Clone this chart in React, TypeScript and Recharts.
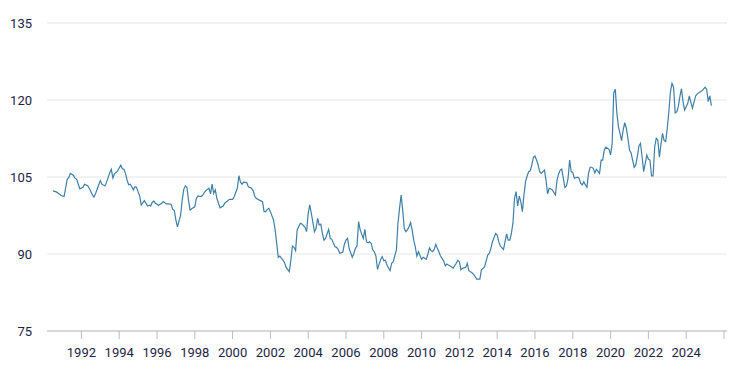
import React from 'react';
import { LineChart, Line, XAxis, YAxis, CartesianGrid } from 'recharts';

const dates = [
  '1990-07','1990-09','1990-11','1990-12','1991-02','1991-04','1991-05','1991-06','1991-08','1991-09','1991-10','1991-12',
  '1992-02','1992-03','1992-05','1992-06','1992-08','1992-09','1992-10','1992-11',
  '1993-01','1993-02','1993-04','1993-05','1993-07','1993-08','1993-09','1993-10','1993-12',
  '1994-01','1994-02','1994-03','1994-04','1994-05','1994-06','1994-07','1994-08','1994-09','1994-10','1994-11','1994-12',
  '1995-01','1995-02','1995-03','1995-05','1995-06','1995-07','1995-08','1995-09','1995-10','1995-11','1995-12',
  '1996-02','1996-04','1996-05','1996-07','1996-08','1996-10','1996-11','1996-12',
  '1997-01','1997-02','1997-04','1997-05','1997-06','1997-07','1997-08','1997-09','1997-10','1997-11',
  '1998-01','1998-02','1998-03','1998-05','1998-06','1998-07','1998-08','1998-10','1998-11','1998-12',
  '1999-01','1999-02','1999-03','1999-05','1999-07','1999-08','1999-10','1999-11',
  '2000-01','2000-02','2000-04','2000-05','2000-06','2000-07','2000-08','2000-10','2000-11',
  '2001-01','2001-02','2001-03','2001-04','2001-06','2001-08','2001-09','2001-10','2001-11','2001-12',
  '2002-01','2002-03','2002-04','2002-05','2002-06','2002-07','2002-09','2002-10','2002-11',
  '2003-01','2003-02','2003-03','2003-04','2003-05','2003-06','2003-08','2003-09','2003-11','2003-12',
  '2004-01','2004-02','2004-03','2004-05','2004-06','2004-07','2004-08','2004-09','2004-10','2004-11','2004-12',
  '2005-02','2005-03','2005-04','2005-06','2005-07','2005-08','2005-09','2005-11','2005-12',
  '2006-01','2006-02','2006-03','2006-05','2006-06','2006-07','2006-08','2006-09','2006-10','2006-12',
  '2007-01','2007-02','2007-03','2007-04','2007-05','2007-06','2007-07','2007-08','2007-09','2007-11','2007-12',
  '2008-01','2008-02','2008-03','2008-05','2008-06','2008-07','2008-09','2008-10','2008-11','2008-12',
  '2009-01','2009-02','2009-03','2009-04','2009-05','2009-06','2009-07','2009-08','2009-09','2009-10','2009-11',
  '2010-01','2010-02','2010-03','2010-04','2010-05','2010-06','2010-07','2010-08','2010-09','2010-10','2010-11','2010-12',
  '2011-01','2011-02','2011-03','2011-04','2011-05','2011-06','2011-08','2011-09','2011-11','2011-12',
  '2012-01','2012-02','2012-03','2012-05','2012-06','2012-07','2012-09','2012-10','2012-11','2012-12',
  '2013-02','2013-03','2013-04','2013-05','2013-07','2013-08','2013-09','2013-10','2013-12',
  '2014-01','2014-02','2014-03','2014-05','2014-06','2014-07','2014-08','2014-09','2014-10','2014-11','2014-12',
  '2015-01','2015-02','2015-03','2015-04','2015-05','2015-06','2015-07','2015-08','2015-09','2015-10','2015-11','2015-12',
  '2016-01','2016-02','2016-03','2016-04','2016-05','2016-06','2016-07','2016-08','2016-09','2016-10','2016-11','2016-12',
  '2017-02','2017-03','2017-04','2017-05','2017-06','2017-07','2017-08','2017-09','2017-10','2017-11','2017-12',
  '2018-01','2018-02','2018-04','2018-05','2018-06','2018-07','2018-08','2018-09','2018-10','2018-11','2018-12',
  '2019-01','2019-02','2019-03','2019-04','2019-05','2019-06','2019-07','2019-08','2019-09','2019-10','2019-12',
  '2020-01','2020-02','2020-03','2020-04','2020-05','2020-06','2020-07','2020-08','2020-09','2020-10','2020-11','2020-12',
  '2021-01','2021-02','2021-03','2021-04','2021-05','2021-06','2021-07','2021-08','2021-09','2021-10','2021-11','2021-12',
  '2022-01','2022-02','2022-03','2022-04','2022-05','2022-06','2022-07','2022-08','2022-09','2022-10','2022-11','2022-12',
  '2023-01','2023-02','2023-03','2023-04','2023-05','2023-06','2023-07','2023-08','2023-09','2023-10','2023-11','2023-12',
  '2024-01','2024-02','2024-03','2024-04','2024-05','2024-07','2024-08','2024-09','2024-10','2024-11','2024-12',
  '2025-01','2025-02','2025-03','2025-04','2025-05',
];

const values = [
  102.3,102.1,101.7,101.4,101.2,104.55,104.9,105.7,105.3,104.75,104.55,102.7,
  103.0,103.6,103.3,102.8,101.5,101.1,101.8,102.6,
  104.3,103.6,103.25,104.0,105.85,106.5,104.8,105.6,106.2,
  106.75,107.3,106.6,106.5,105.7,104.4,103.5,103.6,103.1,102.5,103.1,103.0,
  102.1,101.3,99.55,100.4,99.9,99.35,99.5,99.35,100.1,100.3,99.9,
  99.5,99.9,100.2,99.75,99.75,99.7,98.7,98.45,
  96.6,95.3,97.6,100.5,102.6,103.25,103.0,100.5,98.55,98.8,
  99.2,100.85,101.3,101.2,101.45,101.95,102.35,102.8,101.7,103.6,
  101.8,102.5,100.85,99.0,99.35,99.9,100.4,100.65,
  100.65,101.15,102.8,105.25,104.0,103.6,104.0,103.9,103.1,
  102.8,102.35,101.3,100.85,100.5,100.2,98.25,98.25,98.7,98.9,
  98.25,96.6,94.8,92.1,89.35,89.6,88.8,88.3,87.4,
  86.55,88.8,91.55,91.3,90.65,94.7,96.0,95.85,95.2,94.35,
  97.9,99.55,97.9,94.35,95.0,96.95,95.65,95.8,94.0,92.7,93.05,
  94.8,93.05,92.85,91.4,91.3,90.9,90.15,90.4,91.95,
  92.7,93.05,91.1,89.35,90.15,91.1,91.55,96.3,94.7,93.05,
  94.8,92.4,92.2,92.4,92.1,90.8,90.45,89.6,87.0,88.95,89.5,
  88.7,88.8,87.85,86.75,88.2,88.5,90.8,96.0,98.9,101.5,
  98.55,95.0,94.35,94.7,95.3,96.1,94.7,92.7,91.4,89.6,90.45,
  88.95,89.35,89.15,88.95,90.0,91.2,90.65,90.45,90.9,91.9,91.1,90.45,
  89.6,89.15,88.65,87.7,88.05,87.85,87.5,87.2,88.2,88.8,
  88.5,86.9,87.2,87.4,88.2,86.75,86.35,86.05,85.6,85.1,
  85.1,86.9,87.2,87.5,89.8,90.15,91.1,92.4,94.0,
  93.7,92.4,91.55,90.9,92.4,93.9,92.7,92.7,94.0,96.0,100.85,
  102.15,99.35,101.3,100.2,98.25,101.5,104.1,105.2,106.05,106.2,107.35,108.85,
  109.1,108.3,107.35,106.05,105.7,106.05,106.35,104.4,101.7,102.8,102.7,102.5,
  101.5,104.4,105.6,106.35,106.55,104.75,103.0,103.25,104.75,108.3,106.05,
  105.85,104.75,104.95,104.75,103.8,103.45,104.1,103.45,103.0,105.7,106.9,
  106.9,106.7,105.8,106.5,106.1,105.7,108.3,108.3,110.25,110.8,110.4,
  109.3,111.55,121.4,122.1,117.4,114.8,113.5,112.1,114.2,115.6,114.5,112.55,
  110.25,109.75,108.3,106.9,107.35,108.95,111.05,111.55,108.95,106.05,107.65,109.3,
  108.45,108.3,105.2,105.2,110.8,112.55,112.2,108.85,111.45,113.5,112.1,111.9,
  114.5,117.7,121.6,123.25,122.5,117.5,117.7,118.7,120.65,122.2,119.7,118.05,
  118.7,119.35,120.8,119.5,118.4,120.8,121.2,121.4,121.6,121.8,122.1,
  122.5,122.1,119.7,120.8,118.9,
];

const xTicks = [1992,1994,1996,1998,2000,2002,2004,2006,2008,2010,2012,2014,2016,2018,2020,2022,2024,2026];
const xLabels = ['1992','1994','1996','1998','2000','2002','2004','2006','2008','2010','2012','2014','2016','2018','2020','2022','2024',''];
const yTicks = [75, 90, 105, 120, 135];

const data = dates.map((d, i) => {
  const [yy, mm] = d.split('-').map(Number);
  return { t: yy + (mm - 1) / 12, v: values[i] };
});

const textStyle = { fill: '#1d2345', fontSize: 13, fontFamily: 'Roboto, sans-serif' };

export default function App() {
  return (
    <div style={{ position: 'absolute', left: 0, top: 0, width: 735, height: 371, background: '#ffffff' }}>
      <LineChart width={735} height={371} data={data} margin={{ top: 23, right: 8, bottom: 0, left: 0 }}>
        <CartesianGrid vertical={false} stroke="#e6e6e6" />
        <XAxis
          dataKey="t"
          type="number"
          domain={[1990.18, 2026.16]}
          allowDataOverflow
          ticks={xTicks}
          interval={0}
          tickFormatter={(v: number) => xLabels[xTicks.indexOf(v)] ?? ''}
          height={40}
          stroke="#bdbdbd"
          tickSize={8}
          tickMargin={9}
          tick={textStyle}
        />
        <YAxis
          type="number"
          domain={[75, 135]}
          ticks={yTicks}
          width={47}
          axisLine={false}
          tickLine={false}
          tickMargin={9}
          tick={textStyle}
        />
        <Line
          type="linear"
          dataKey="v"
          stroke="#3f7fa6"
          strokeWidth={1.2}
          dot={false}
          isAnimationActive={false}
        />
      </LineChart>
    </div>
  );
}
